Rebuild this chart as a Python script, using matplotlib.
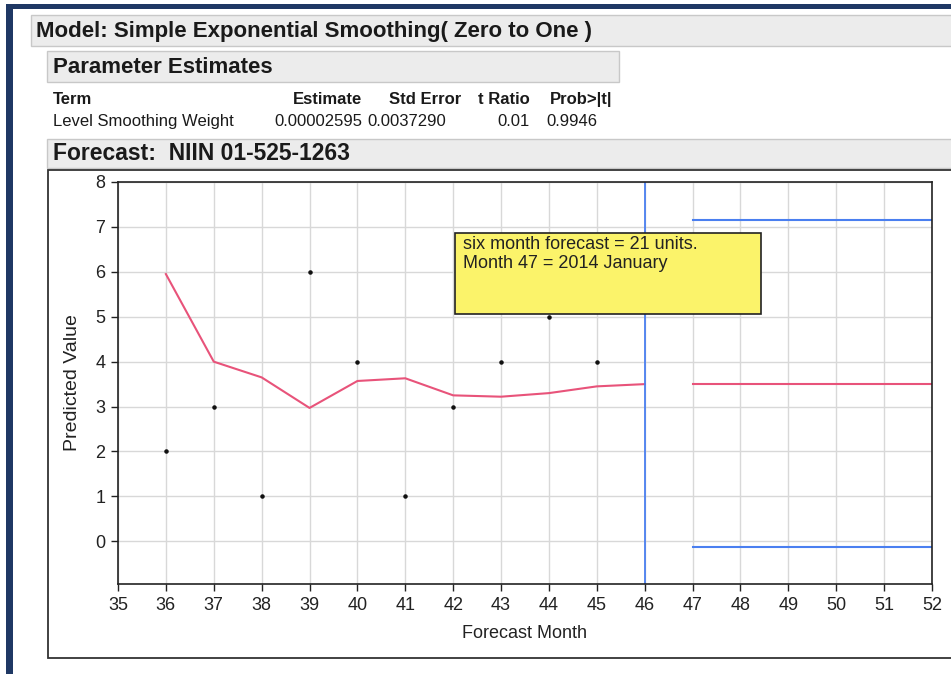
import matplotlib
matplotlib.use("Agg")
import matplotlib.pyplot as plt
from matplotlib.patches import Rectangle

plt.rcParams['font.family'] = ['Liberation Sans', 'DejaVu Sans']

W, H = 951, 674

# observed demand
months = [36, 37, 38, 39, 40, 41, 42, 43, 44, 45]
actual = [2, 3, 1, 6, 4, 1, 3, 4, 5, 4]

# one-step predictions
pred_months = [36, 37, 38, 39, 40, 41, 42, 43, 44, 45, 46]
predicted = [5.95, 4.0, 3.65, 2.97, 3.57, 3.63, 3.25, 3.22, 3.3, 3.45, 3.5]

# forecast horizon
fc_months = [47, 48, 49, 50, 51, 52]
fc_value = [3.5, 3.5, 3.5, 3.5, 3.5, 3.5]
fc_upper = [7.15, 7.15, 7.15, 7.15, 7.15, 7.15]
fc_lower = [-0.12, -0.12, -0.12, -0.12, -0.12, -0.12]
origin_month = 46

xticks = list(range(35, 53))
yticks = list(range(0, 9))

header_cols = ['Term', 'Estimate', 'Std Error', 't Ratio', 'Prob>|t|']
row_vals = ['Level Smoothing Weight', '0.00002595', '0.0037290', '0.01', '0.9946']


def fx(px):
    return px / W


def fy(py):
    return 1 - py / H


def rect(ax, x0, y0, x1, y1, **kw):
    ax.add_patch(Rectangle((fx(x0), fy(y1)), fx(x1) - fx(x0), fy(y0) - fy(y1),
                           transform=ax.transAxes, **kw))


fig = plt.figure(figsize=(W / 100, H / 100), dpi=100)
bg = fig.add_axes([0, 0, 1, 1])
bg.set_xlim(0, 1)
bg.set_ylim(0, 1)
bg.axis('off')

# dark frame on left and top
rect(bg, 6, 4, 13, 680, facecolor='#1f3864', edgecolor='none')
rect(bg, 6, 4, 960, 9, facecolor='#1f3864', edgecolor='none')

# section bars
rect(bg, 31, 15, 960, 46, facecolor='#ececec', edgecolor='#c8c8c8', lw=1)
rect(bg, 47, 51, 619, 82, facecolor='#ececec', edgecolor='#c8c8c8', lw=1)
rect(bg, 47, 139, 960, 168, facecolor='#ececec', edgecolor='#c8c8c8', lw=1)

bg.text(fx(36), fy(37), 'Model: Simple Exponential Smoothing( Zero to One )',
        fontsize=16, fontweight='bold', va='baseline', ha='left', color='#1a1a1a')
bg.text(fx(53), fy(73), 'Parameter Estimates', fontsize=16, fontweight='bold',
        va='baseline', ha='left', color='#1a1a1a')
bg.text(fx(53), fy(160), 'Forecast:  NIIN 01-525-1263', fontsize=16.5, fontweight='bold',
        va='baseline', ha='left', color='#1a1a1a')

# parameter table
hdr_x = [53, 362, 461, 530, 612]
hdr_ha = ['left', 'right', 'right', 'right', 'right']
for t, x, ha in zip(header_cols, hdr_x, hdr_ha):
    bg.text(fx(x), fy(104), t, fontsize=12, fontweight='bold', va='baseline', ha=ha, color='#1a1a1a')
val_x = [53, 362, 446, 530, 546]
val_ha = ['left', 'right', 'right', 'right', 'left']
for t, x, ha in zip(row_vals, val_x, val_ha):
    bg.text(fx(x), fy(126), t, fontsize=12, va='baseline', ha=ha, color='#1a1a1a')

# chart frame
rect(bg, 48, 170, 970, 658, facecolor='white', edgecolor='#333333', lw=1.3)

ax = fig.add_axes([fx(118), fy(584), fx(932) - fx(118), fy(182) - fy(584)])
ax.set_xlim(35, 52)
ax.set_ylim(-0.95, 8)
ax.set_xticks(xticks)
ax.set_yticks(yticks)
ax.grid(True, color='#d8d8d8', lw=1)
ax.set_axisbelow(True)
for s in ax.spines.values():
    s.set_color('#222222')
    s.set_linewidth(1.2)
ax.tick_params(direction='out', length=5, width=1, labelsize=13, colors='#222222', pad=4)

ax.plot(pred_months, predicted, color='#e8537a', lw=1.5)
ax.plot(fc_months, fc_value, color='#e8537a', lw=1.5)
ax.plot(fc_months, fc_upper, color='#4a7ff0', lw=1.5)
ax.plot(fc_months, fc_lower, color='#4a7ff0', lw=1.5)
ax.axvline(origin_month, color='#4a7ff0', lw=1.3)
ax.scatter(months, actual, s=5, color='#111111', zorder=3)

ax.set_xlabel('Forecast Month', fontsize=13, color='#222222', labelpad=8)
ax.set_ylabel('Predicted Value', fontsize=14, color='#222222', labelpad=10)

# note box
ax.add_patch(Rectangle((42.04, 5.06), 6.38, 1.8, facecolor='#fbf36a', edgecolor='#222222',
                       lw=1.2, zorder=4))
ax.text(42.2, 6.8, 'six month forecast = 21 units.\nMonth 47 = 2014 January',
        fontsize=13, va='top', ha='left', color='#222222', zorder=5, linespacing=1.15)

fig.savefig('out.png', dpi=100)
